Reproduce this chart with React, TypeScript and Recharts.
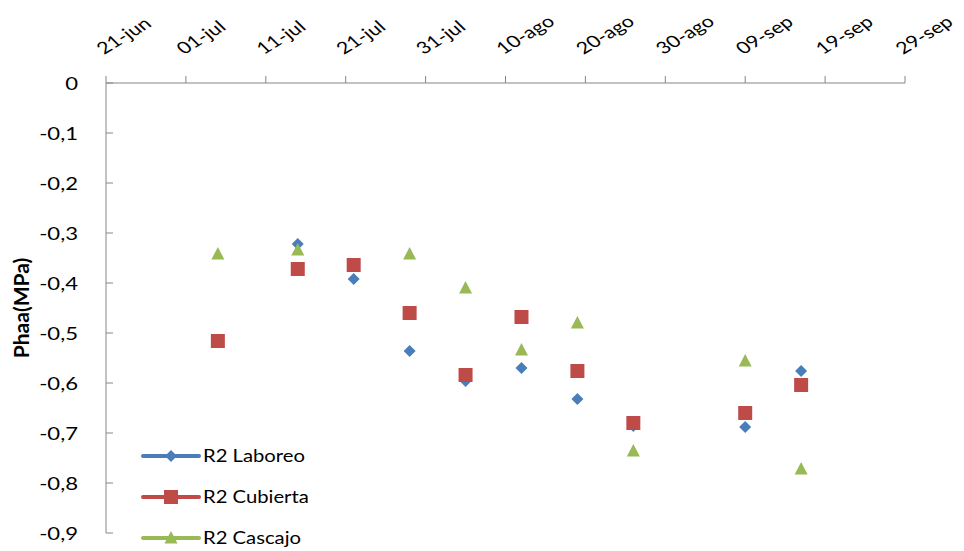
import { ScatterChart, Scatter, XAxis, YAxis, Legend, Label } from 'recharts';

// days counted from 21-jun (first tick)
const fechas = ['05-jul', '15-jul', '22-jul', '29-jul', '05-ago', '12-ago', '19-ago', '26-ago', '09-sep', '16-sep'];
const dias = [14, 24, 31, 38, 45, 52, 59, 66, 80, 87];
const laboreo = [null, -0.322, -0.392, -0.536, -0.596, -0.57, -0.632, -0.686, -0.688, -0.576];
const cubierta = [-0.516, -0.372, -0.364, -0.46, -0.584, -0.468, -0.576, -0.68, -0.66, -0.604];
const cascajo = [-0.342, -0.334, null, -0.342, -0.41, -0.534, -0.48, -0.736, -0.556, -0.772];

const xTicks = [0, 10, 20, 30, 40, 50, 60, 70, 80, 90, 100];
const xTickLabels = ['21-jun', '01-jul', '11-jul', '21-jul', '31-jul', '10-ago', '20-ago', '30-ago', '09-sep', '19-sep', '29-sep'];
const yTicks = [0, -0.1, -0.2, -0.3, -0.4, -0.5, -0.6, -0.7, -0.8, -0.9];

const FONT = 'Lato, "Open Sans", sans-serif';
const AXIS = '#868686';
const Y_TICK_MARGIN = 28;

const toPoints = (vals: (number | null)[]) =>
  vals
    .map((v, i) => ({ x: dias[i], y: v, fecha: fechas[i] }))
    .filter((p) => p.y !== null);

type Shape = 'diamond' | 'square' | 'triangle';

function Marker({ cx, cy, kind, color }: { cx: number; cy: number; kind: Shape; color: string }) {
  if (kind === 'square') return <rect x={cx - 7} y={cy - 7} width={14} height={14} fill={color} />;
  if (kind === 'diamond')
    return <polygon points={`${cx},${cy - 6} ${cx + 6},${cy} ${cx},${cy + 6} ${cx - 6},${cy}`} fill={color} />;
  return <polygon points={`${cx},${cy - 7} ${cx + 6.5},${cy + 5.5} ${cx - 6.5},${cy + 5.5}`} fill={color} />;
}

const SERIES: { name: string; data: (number | null)[]; color: string; kind: Shape }[] = [
  { name: 'R2 Laboreo', data: laboreo, color: '#4A7EBB', kind: 'diamond' },
  { name: 'R2 Cubierta', data: cubierta, color: '#BE4B48', kind: 'square' },
  { name: 'R2 Cascajo', data: cascajo, color: '#98B954', kind: 'triangle' },
];

// the source picture is a bit wide, so text gets a horizontal stretch
function XTick({ x, y, payload }: any) {
  const label = xTickLabels[xTicks.indexOf(payload.value)];
  return (
    <text
      transform={`translate(${x - 2},${y - 19}) scale(1.3,1) rotate(-38)`}
      textAnchor="start"
      fontSize={16.5}
      fontFamily={FONT}
      fill="#000"
    >
      {label}
    </text>
  );
}

function YTick({ x, y, payload }: any) {
  const axisX = x + Y_TICK_MARGIN;
  const txt = payload.value === 0 ? '0' : payload.value.toFixed(1).replace('.', ',');
  return (
    <g>
      <line x1={axisX} x2={axisX + 7} y1={y} y2={y} stroke={AXIS} />
      <text transform={`translate(${x},${y}) scale(1.3,1)`} dy={6.5} textAnchor="end" fontSize={17} fontFamily={FONT} fill="#000">
        {txt}
      </text>
    </g>
  );
}

function LegendBox() {
  return (
    <div style={{ fontFamily: FONT, fontSize: 17, color: '#000' }}>
      {SERIES.map((s) => (
        <div key={s.name} style={{ display: 'flex', alignItems: 'center', height: 41 }}>
          <svg width={62} height={18} style={{ display: 'block' }}>
            <line x1={2} x2={58} y1={9} y2={9} stroke={s.color} strokeWidth={4} strokeLinecap="round" />
            <Marker cx={30} cy={9} kind={s.kind} color={s.color} />
          </svg>
          <span style={{ display: 'inline-block', transform: 'scaleX(1.19)', transformOrigin: 'left center', whiteSpace: 'nowrap' }}>
            {s.name}
          </span>
        </div>
      ))}
    </div>
  );
}

export default function App() {
  return (
    <div style={{ position: 'absolute', left: 0, top: 0, background: '#fff' }}>
      <ScatterChart width={964} height={551} margin={{ top: 0, right: 59, bottom: 18, left: 0 }}>
        <XAxis
          type="number"
          dataKey="x"
          orientation="top"
          domain={[0, 100]}
          ticks={xTicks}
          height={83}
          tick={<XTick />}
          tickSize={7}
          tickMargin={2}
          stroke={AXIS}
          axisLine={{ stroke: AXIS }}
          tickLine={{ stroke: AXIS }}
        />
        <YAxis
          type="number"
          dataKey="y"
          domain={[-0.9, 0]}
          ticks={yTicks}
          width={106}
          tick={<YTick />}
          tickLine={false}
          tickSize={0}
          tickMargin={Y_TICK_MARGIN}
          axisLine={{ stroke: AXIS }}
        >
          <Label
            content={({ viewBox }: any) => {
              const cx = viewBox.x + 20;
              const cy = viewBox.y + viewBox.height / 2;
              return (
                <text
                  transform={`translate(${cx},${cy}) rotate(-90)`}
                  textAnchor="middle"
                  dominantBaseline="central"
                  fontSize={21}
                  fontWeight="bold"
                  fontFamily={FONT}
                  fill="#000"
                >
                  Phaa(MPa)
                </text>
              );
            }}
          />
        </YAxis>
        <Legend
          layout="vertical"
          align="center"
          verticalAlign="middle"
          content={<LegendBox />}
          wrapperStyle={{ left: 141, top: 435, width: 'auto' }}
        />
        {SERIES.map((s) => (
          <Scatter
            key={s.name}
            name={s.name}
            data={toPoints(s.data)}
            fill={s.color}
            isAnimationActive={false}
            shape={(p: any) => <Marker cx={p.cx} cy={p.cy} kind={s.kind} color={s.color} />}
          />
        ))}
      </ScatterChart>
    </div>
  );
}
